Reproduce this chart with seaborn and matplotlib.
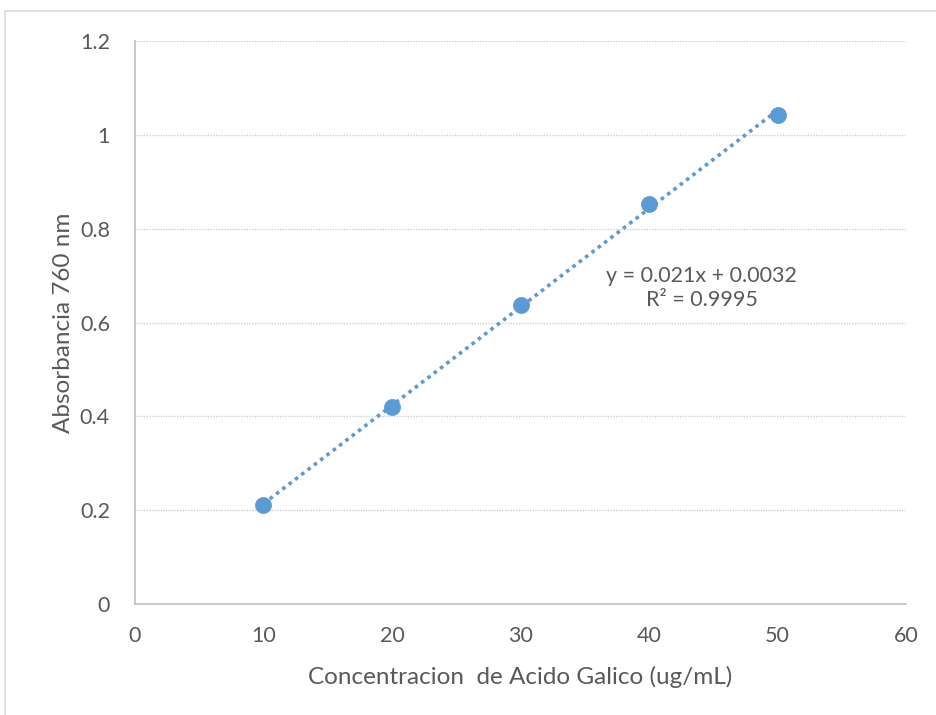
import numpy as np
import seaborn as sns
import matplotlib.pyplot as plt
from matplotlib.patches import Rectangle

# Calibration data (gallic acid standard curve)
concentracion = [10, 20, 30, 40, 50]
absorbancia = [0.212, 0.419, 0.638, 0.853, 1.043]
x_ticks = [0, 10, 20, 30, 40, 50, 60]
y_ticks = [0, 0.2, 0.4, 0.6, 0.8, 1.0, 1.2]
y_tick_labels = ['0', '0.2', '0.4', '0.6', '0.8', '1', '1.2']

sns.set_style('white')
plt.rcParams['font.family'] = ['Lato', 'DejaVu Sans']

blue = '#5B9BD5'
text_gray = '#595959'

fig = plt.figure(figsize=(9.36, 7.15), dpi=100)
ax = fig.add_axes([0.1442, 0.1552, 0.8238, 0.7875])

# outer chart border like Excel
fig.patches.append(Rectangle((5 / 936, -0.01), 1.0, 1 - 11 / 715 + 0.01,
                             transform=fig.transFigure, fill=False,
                             edgecolor='#D9D9D9', linewidth=1.2))

# linear trendline
slope, intercept = np.polyfit(concentracion, absorbancia, 1)
fit_x = np.array([min(concentracion), max(concentracion)])
ax.plot(fit_x, slope * fit_x + intercept, linestyle=(0, (1, 1.2)),
        color=blue, linewidth=2.6, zorder=2)

sns.scatterplot(x=concentracion, y=absorbancia, ax=ax, color=blue, s=135,
                edgecolor=blue, linewidth=0.5, zorder=3)

ax.set_xlim(0, 60)
ax.set_ylim(0, 1.2)
ax.set_xticks(x_ticks)
ax.set_yticks(y_ticks)
ax.set_yticklabels(y_tick_labels)
ax.tick_params(axis='both', length=0, labelsize=15.5, labelcolor=text_gray)
ax.tick_params(axis='x', pad=16)
ax.tick_params(axis='y', pad=18)

ax.yaxis.grid(True, linestyle=(0, (1, 1)), color='#D0D0D0', linewidth=1)
ax.xaxis.grid(False)
ax.set_axisbelow(True)

for side in ['top', 'right']:
    ax.spines[side].set_visible(False)
for side in ['left', 'bottom']:
    ax.spines[side].set_color('#BFBFBF')
    ax.spines[side].set_linewidth(1.2)

ax.set_xlabel('Concentracion  de Acido Galico (ug/mL)', fontsize=17.5,
              color=text_gray, labelpad=14)
ax.set_ylabel('Absorbancia 760 nm', fontsize=17.5, color=text_gray, labelpad=4)

ax.text(44.1, 0.674, 'y = 0.021x + 0.0032\nR² = 0.9995', ha='center',
        va='center', fontsize=15.5, color=text_gray, linespacing=1.25)

fig.savefig('out.png', dpi=100)
